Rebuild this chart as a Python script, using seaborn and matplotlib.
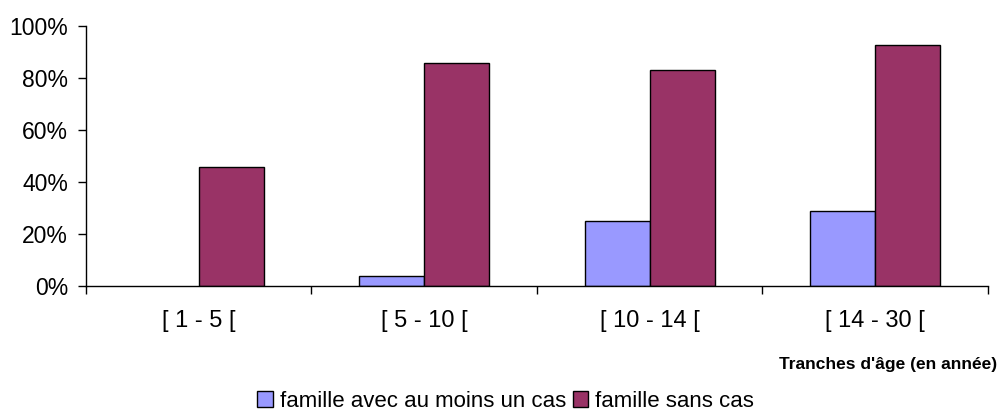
import pandas as pd
import seaborn as sns
import matplotlib.pyplot as plt
from matplotlib.ticker import PercentFormatter, FixedLocator

tranches = ["[ 1 - 5 [", "[ 5 - 10 [", "[ 10 - 14 [", "[ 14 - 30 ["]
avec_cas = [0, 3.8, 25.0, 28.8]
sans_cas = [45.6, 85.6, 83.1, 92.8]
series = ["famille avec au moins un cas", "famille sans cas"]
couleurs = ["#9999FF", "#993366"]

df = pd.DataFrame({
    "tranche": tranches * 2,
    "pct": avec_cas + sans_cas,
    "serie": [series[0]] * len(tranches) + [series[1]] * len(tranches),
})

sns.set_style("white")
plt.rcParams["font.family"] = ["Liberation Sans", "DejaVu Sans"]
plt.rcParams["text.color"] = "black"
plt.rcParams["xtick.color"] = "black"
plt.rcParams["ytick.color"] = "black"

fig = plt.figure(figsize=(10.01, 4.17), dpi=100)
ax = fig.add_axes([0.0859, 0.314, 0.901, 0.6236])

sns.barplot(data=df, x="tranche", y="pct", hue="serie", order=tranches,
            hue_order=series, palette=couleurs, saturation=1, width=0.577,
            edgecolor="black", linewidth=1, ax=ax, legend=True)

# pas de contour pour les barres vides
for p in ax.patches:
    if p.get_height() == 0:
        p.set_linewidth(0)

ax.set_xlim(-0.5, len(tranches) - 0.5)
ax.set_ylim(0, 100)
ax.set_yticks(range(0, 101, 20))
ax.yaxis.set_major_formatter(PercentFormatter(decimals=0))
ax.tick_params(axis="y", labelsize=16.5, length=6, width=1, left=True, pad=7)
ax.tick_params(axis="x", which="major", labelsize=17, length=0, pad=17)
ax.xaxis.set_minor_locator(FixedLocator([i - 0.5 for i in range(len(tranches) + 1)]))
ax.tick_params(axis="x", which="minor", length=6, width=1, bottom=True)

for s in ["top", "right"]:
    ax.spines[s].set_visible(False)
for s in ["left", "bottom"]:
    ax.spines[s].set_color("black")
    ax.spines[s].set_linewidth(1)

ax.set_xlabel("")
ax.set_ylabel("")
fig.text(0.996, 0.127, "Tranches d'âge (en année)", ha="right", va="center",
         fontsize=12.5, fontweight="bold")

handles, labels = ax.get_legend_handles_labels()
ax.get_legend().remove()
leg = fig.legend(handles, labels, loc="lower center", bbox_to_anchor=(0.505, -0.025), ncol=2,
                 frameon=False, fontsize=16, handlelength=0.7, handleheight=0.7,
                 handletextpad=0.3, columnspacing=0.3, borderpad=0.2)
for h in leg.legend_handles:
    h.set_edgecolor("black")
    h.set_linewidth(1)

fig.savefig("out.png", dpi=100)
